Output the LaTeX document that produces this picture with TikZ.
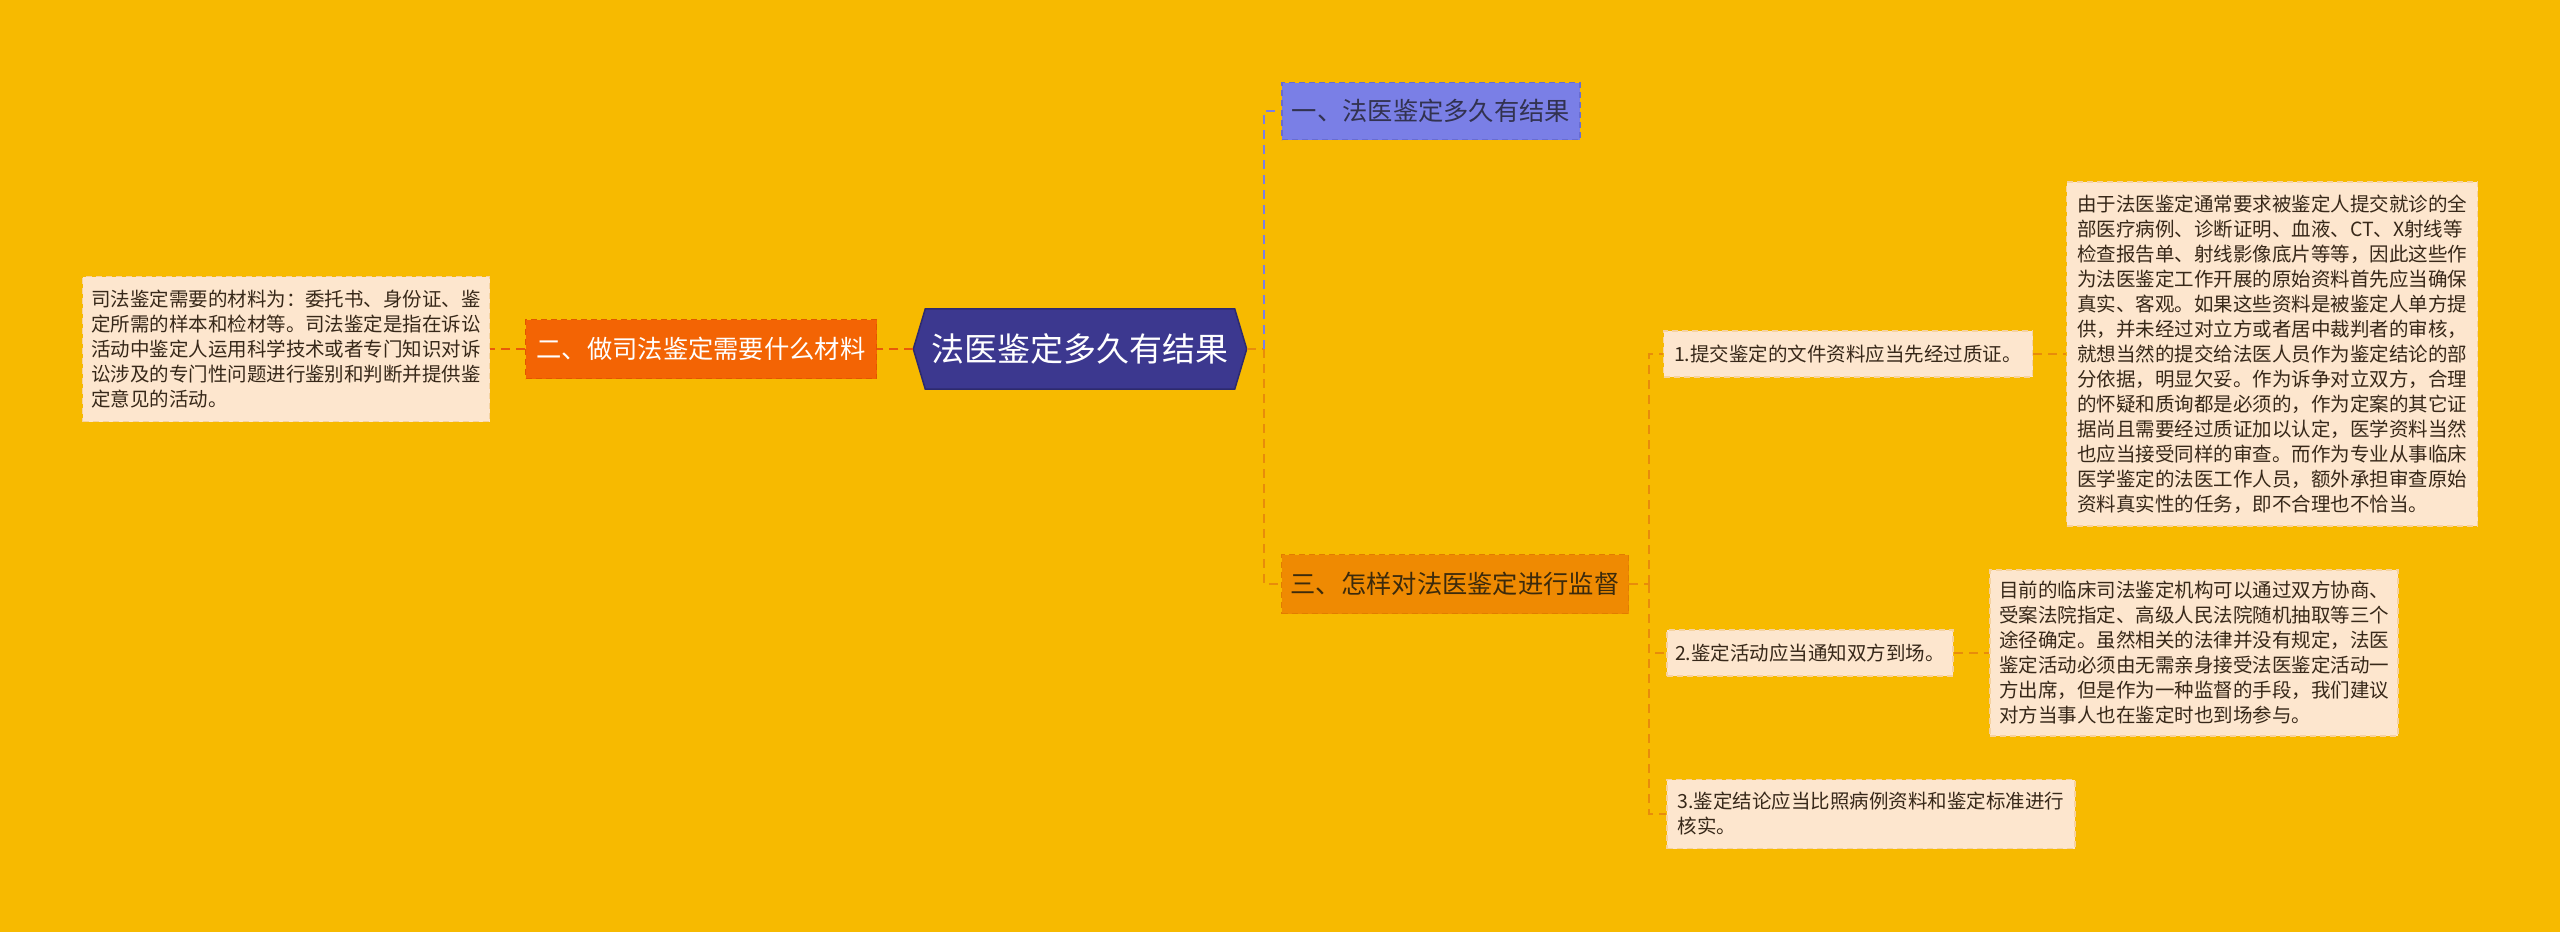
\documentclass[tikz,border=0pt]{standalone}
\usepackage{fontspec}
\setmainfont{Noto Sans CJK SC}
\usetikzlibrary{calc}
\pgfdeclarelayer{back}
\pgfsetlayers{back,main}
\definecolor{bgc}{RGB}{247,186,0}
\definecolor{rootfill}{RGB}{60,56,143}
\definecolor{rootline}{RGB}{45,42,110}
\definecolor{bluefill}{RGB}{122,127,230}
\definecolor{blueline}{RGB}{104,108,210}
\definecolor{redfill}{RGB}{243,100,4}
\definecolor{redline}{RGB}{225,85,0}
\definecolor{orfill}{RGB}{239,138,2}
\definecolor{orline}{RGB}{226,124,0}
\definecolor{leaffill}{RGB}{253,230,206}
\definecolor{leafline}{RGB}{246,210,160}
\definecolor{leaftext}{RGB}{55,40,25}
\definecolor{darktext}{RGB}{50,50,80}
\definecolor{brtext}{RGB}{60,42,12}
\definecolor{conor}{RGB}{232,140,10}
\definecolor{conred}{RGB}{232,90,10}
\definecolor{conblue}{RGB}{122,127,230}
\tikzset{
  lvone/.style={rectangle, inner sep=0pt, font={\fontsize{25.3}{30}\selectfont}, dashed, dash pattern=on 6pt off 4pt, line width=1.5pt},
  leafbox/.style={rectangle, inner sep=0pt, fill=leaffill, draw=leafline, dashed, dash pattern=on 6pt off 4pt, line width=1.5pt, text=leaftext, align=left, font={\fontsize{19.5}{25}\selectfont}},
  con/.style={dashed, dash pattern=on 9pt off 6pt, line width=2pt},
}
\begin{document}
\begin{tikzpicture}[x=1pt,y=-1pt]
\useasboundingbox (0,0) rectangle (2560,932);
\begin{pgfonlayer}{back}
\fill[bgc] (0,0) rectangle (2560,932);
\end{pgfonlayer}

% root
\node (root) [rectangle, minimum width=333pt, minimum height=80pt, inner sep=0pt, text=white, font={\fontsize{33}{38}\selectfont}] at (1080,349) {法医鉴定多久有结果};
\begin{pgfonlayer}{back}
\fill[rootfill, draw=rootline, line width=1.5pt] (root.west) -- ($(root.north west)+(12,0)$) -- ($(root.north east)+(-12,0)$) -- (root.east) -- ($(root.south east)+(-12,0)$) -- ($(root.south west)+(12,0)$) -- cycle;
\end{pgfonlayer}

% level one
\node (n1) [lvone, fill=bluefill, draw=blueline, text=darktext, minimum width=298pt, minimum height=57pt] at (1431,111) {一、法医鉴定多久有结果};
\node (n2) [lvone, fill=redfill, draw=redline, text=white, minimum width=351pt, minimum height=59pt] at (701,349) {二、做司法鉴定需要什么材料};
\node (n3) [lvone, fill=orfill, draw=orline, text=brtext, minimum width=347pt, minimum height=59pt] at (1455,584) {三、怎样对法医鉴定进行监督};

% left leaf
\node (leafL) [leafbox, minimum width=407pt, minimum height=145pt] at (286,349) {司法鉴定需要的材料为：委托书、身份证、鉴\\定所需的样本和检材等。司法鉴定是指在诉讼\\活动中鉴定人运用科学技术或者专门知识对诉\\讼涉及的专门性问题进行鉴别和判断并提供鉴\\定意见的活动。};

% children of n3
\node (c1) [leafbox, minimum width=369pt, minimum height=46pt] at (1848,354) {1.提交鉴定的文件资料应当先经过质证。};
\node (c2) [leafbox, minimum width=286pt, minimum height=46pt] at (1810,653) {2.鉴定活动应当通知双方到场。};
\node (c3) [leafbox, minimum width=408pt, minimum height=69pt] at (1871,814) {3.鉴定结论应当比照病例资料和鉴定标准进行\\核实。};

\node (leaf1) [leafbox, minimum width=411pt, minimum height=344pt] at (2272,354) {由于法医鉴定通常要求被鉴定人提交就诊的全\\部医疗病例、诊断证明、血液、CT、X射线等\\检查报告单、射线影像底片等等，因此这些作\\为法医鉴定工作开展的原始资料首先应当确保\\真实、客观。如果这些资料是被鉴定人单方提\\供，并未经过对立方或者居中裁判者的审核，\\就想当然的提交给法医人员作为鉴定结论的部\\分依据，明显欠妥。作为诉争对立双方，合理\\的怀疑和质询都是必须的，作为定案的其它证\\据尚且需要经过质证加以认定，医学资料当然\\也应当接受同样的审查。而作为专业从事临床\\医学鉴定的法医工作人员，额外承担审查原始\\资料真实性的任务，即不合理也不恰当。};

\node (leaf2) [leafbox, minimum width=408pt, minimum height=166pt] at (2194,653) {目前的临床司法鉴定机构可以通过双方协商、\\受案法院指定、高级人民法院随机抽取等三个\\途径确定。虽然相关的法律并没有规定，法医\\鉴定活动必须由无需亲身接受法医鉴定活动一\\方出席，但是作为一种监督的手段，我们建议\\对方当事人也在鉴定时也到场参与。};

% connectors
\coordinate (j1) at (1264,349);
\coordinate (j2) at (1649,584);
\begin{pgfonlayer}{back}
\draw[con, conor] (root.east) -- (j1);
\draw[con, conblue] (j1) |- (n1.west);
\draw[con, conor] (j1) |- (n3.west);
\draw[con, conred] (root.west) -- (n2.east);
\draw[con, conred] (n2.west) -- (leafL.east);
\draw[con, conor] (n3.east) -- (j2);
\draw[con, conor] (j2) |- (c1.west);
\draw[con, conor] (j2) |- (c2.west);
\draw[con, conor] (j2) |- (c3.west);
\draw[con, conor] (c1.east) -- (leaf1.west);
\draw[con, conor] (c2.east) -- (leaf2.west);
\end{pgfonlayer}
\end{tikzpicture}
\end{document}
